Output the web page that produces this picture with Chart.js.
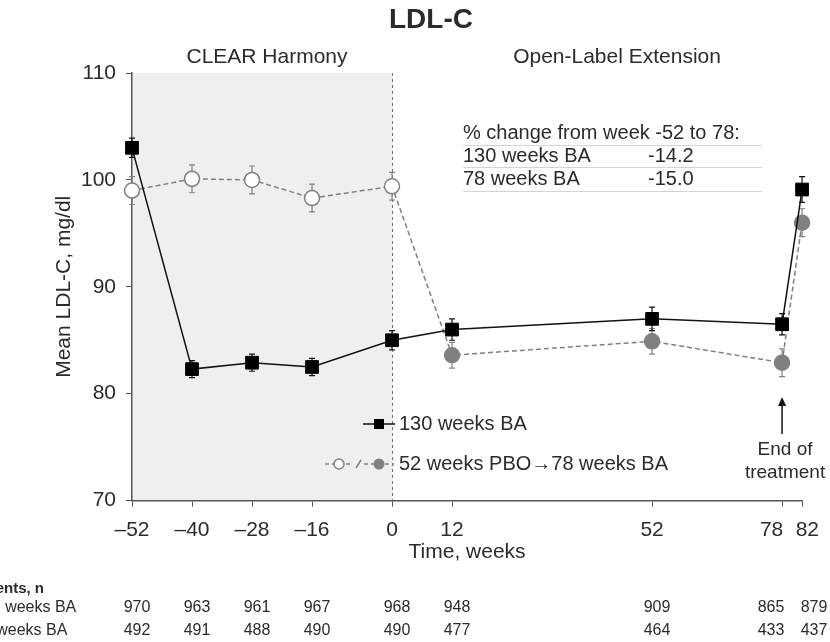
<!DOCTYPE html>
<html>
<head>
<meta charset="utf-8">
<script src="https://cdn.jsdelivr.net/npm/chart.js@4"></script>
<style>
  html, body { margin: 0; padding: 0; background: #fff; }
</style>
</head>
<body>
<canvas id="chart" width="830" height="642"></canvas>
<script>
const weeks = [-52, -40, -28, -16, 0, 12, 52, 78, 82];
const xTicks = [-52, -40, -28, -16, 0, 12, 52, 78, 82];
const ba130 = [103.0, 82.3, 82.9, 82.5, 85.0, 86.0, 87.0, 86.5, 99.1];
const ba130Err = [0.9, 0.8, 0.8, 0.8, 0.9, 1.0, 1.1, 1.0, 1.2];
const pbo = [99.0, 100.1, 100.0, 98.3, 99.4, 83.6, 84.9, 82.9, 96.0];
const pboErr = [1.3, 1.3, 1.3, 1.3, 1.3, 1.2, 1.2, 1.3, 1.3];
const nBa130 = [970, 963, 961, 967, 968, 948, 909, 865, 879];
const nBa78 = [492, 491, 488, 490, 490, 477, 464, 433, 437];
const changeRows = ['130 weeks BA', '78 weeks BA'];
const changeVals = ['-14.2', '-15.0'];

const FONT = "'Liberation Sans', Arial, sans-serif";
const TXT = '#2b2b2b';
const GREY = '#808080';

Chart.defaults.font.family = FONT;
Chart.defaults.color = TXT;

function put(ctx, s, x, y, size, align, bold) {
    ctx.font = (bold ? 'bold ' : '') + size + 'px ' + FONT;
    ctx.textAlign = align || 'left';
    ctx.textBaseline = 'middle';
    ctx.fillStyle = TXT;
    ctx.fillText(s, x, y);
}

function errBars(ctx, xs, ys, vals, errs, color) {
    ctx.strokeStyle = color;
    ctx.lineWidth = 1.2;
    ctx.setLineDash([]);
    weeks.forEach((w, i) => {
        const px = xs.getPixelForValue(w);
        const lo = ys.getPixelForValue(vals[i] - errs[i]);
        const hi = ys.getPixelForValue(vals[i] + errs[i]);
        ctx.beginPath();
        ctx.moveTo(px, lo); ctx.lineTo(px, hi);
        ctx.moveTo(px - 3, lo); ctx.lineTo(px + 3, lo);
        ctx.moveTo(px - 3, hi); ctx.lineTo(px + 3, hi);
        ctx.stroke();
    });
}

const extras = {
    id: 'extras',
    beforeDraw(chart) {
        const {ctx, chartArea: a, scales: {x}} = chart;
        ctx.save();
        ctx.fillStyle = '#efefef';
        const x0 = x.getPixelForValue(-52), x1 = x.getPixelForValue(0);
        ctx.fillRect(x0, a.top, x1 - x0, a.bottom - a.top);
        ctx.restore();
    },
    beforeDatasetsDraw(chart) {
        const {ctx, chartArea: a, scales: {x, y}} = chart;
        ctx.save();
        // start of open-label extension
        const x1 = Math.round(x.getPixelForValue(0)) + 0.5;
        ctx.strokeStyle = '#6f6f6f';
        ctx.lineWidth = 1;
        ctx.setLineDash([3, 3]);
        ctx.beginPath();
        ctx.moveTo(x1, a.top); ctx.lineTo(x1, a.bottom);
        ctx.stroke();
        errBars(ctx, x, y, pbo, pboErr, GREY);
        errBars(ctx, x, y, ba130, ba130Err, '#111');
        ctx.restore();
    },
    afterDraw(chart) {
        const {ctx, scales: {x}} = chart;
        ctx.save();

        put(ctx, 'LDL-C', 431, 20, 28, 'center', true);
        put(ctx, 'CLEAR Harmony', x.getPixelForValue(-25), 57, 21, 'center');
        put(ctx, 'Open-Label Extension', x.getPixelForValue(45), 57, 21, 'center');

        // % change box
        put(ctx, '% change from week -52 to 78:', 463, 133, 20);
        changeRows.forEach((r, i) => {
            put(ctx, r, 463, 156 + i * 23, 20);
            put(ctx, changeVals[i], 648, 156 + i * 23, 20);
        });
        ctx.strokeStyle = '#d4d4d4';
        ctx.lineWidth = 1;
        [145.5, 167.5, 191.5].forEach(ly => {
            ctx.beginPath(); ctx.moveTo(463, ly); ctx.lineTo(762, ly); ctx.stroke();
        });

        // legend
        ctx.strokeStyle = '#111';
        ctx.lineWidth = 1.5;
        ctx.beginPath(); ctx.moveTo(363, 424); ctx.lineTo(395, 424); ctx.stroke();
        ctx.fillStyle = '#000';
        ctx.fillRect(374, 419, 10, 10);
        put(ctx, '130 weeks BA', 399, 424, 20);

        ctx.strokeStyle = GREY;
        ctx.setLineDash([4, 3]);
        ctx.beginPath();
        ctx.moveTo(325, 464); ctx.lineTo(353, 464);
        ctx.moveTo(364, 464); ctx.lineTo(394, 464);
        ctx.stroke();
        ctx.setLineDash([]);
        ctx.beginPath(); ctx.moveTo(356, 468); ctx.lineTo(361, 460); ctx.stroke();
        ctx.fillStyle = '#fff';
        ctx.beginPath(); ctx.arc(339, 464, 5, 0, Math.PI * 2); ctx.fill(); ctx.stroke();
        ctx.fillStyle = GREY;
        ctx.beginPath(); ctx.arc(379, 464, 5.5, 0, Math.PI * 2); ctx.fill();
        put(ctx, '52 weeks PBO\u219278 weeks BA', 399, 464, 20);

        // end of treatment
        const xe = x.getPixelForValue(78);
        ctx.strokeStyle = '#111';
        ctx.fillStyle = '#111';
        ctx.lineWidth = 1.5;
        ctx.beginPath(); ctx.moveTo(xe, 434); ctx.lineTo(xe, 404); ctx.stroke();
        ctx.beginPath(); ctx.moveTo(xe - 4, 406); ctx.lineTo(xe + 4, 406); ctx.lineTo(xe, 397); ctx.closePath(); ctx.fill();
        put(ctx, 'End of', xe + 3, 450, 19, 'center');
        put(ctx, 'treatment', xe + 3, 473, 19, 'center');

        // patients at risk
        put(ctx, 'Patients, n', 44, 589, 15, 'right', true);
        put(ctx, '130 weeks BA', -26, 608, 16);
        put(ctx, '78 weeks BA', -26, 631, 16);
        const shift = {78: -11, 82: 12};
        weeks.forEach((w, i) => {
            const px = x.getPixelForValue(w) + (shift[w] !== undefined ? shift[w] : 5);
            put(ctx, String(nBa130[i]), px, 608, 16, 'center');
            put(ctx, String(nBa78[i]), px, 631, 16, 'center');
        });
        ctx.restore();
    }
};

const chart = new Chart(document.getElementById('chart'), {
    type: 'line',
    data: {
        datasets: [{
            label: '130 weeks BA',
            data: weeks.map((w, i) => ({x: w, y: ba130[i]})),
            borderColor: '#111',
            borderWidth: 1.5,
            pointStyle: 'rect',
            pointRadius: 9,
            pointBackgroundColor: '#000',
            pointBorderColor: '#000',
            pointBorderWidth: 1,
            clip: false
        }, {
            label: '52 weeks PBO\u219278 weeks BA',
            data: weeks.map((w, i) => ({x: w, y: pbo[i]})),
            borderColor: GREY,
            borderWidth: 1.5,
            borderDash: [5, 3],
            pointStyle: 'circle',
            pointRadius: 7.5,
            pointBackgroundColor: weeks.map(w => w <= 0 ? '#fff' : GREY),
            pointBorderColor: GREY,
            pointBorderWidth: 1.5,
            clip: false
        }]
    },
    options: {
        responsive: false,
        animation: false,
        layout: {padding: {top: 73, right: 27, bottom: 77, left: 0}},
        plugins: {
            legend: {display: false},
            tooltip: {enabled: false}
        },
        scales: {
            x: {
                type: 'linear',
                min: -52,
                max: 82,
                afterBuildTicks: s => { s.ticks = xTicks.map(v => ({value: v})); },
                grid: {drawOnChartArea: false, tickLength: 6, color: '#555'},
                border: {color: '#555', width: 1.5},
                ticks: {
                    autoSkip: false,
                    maxRotation: 0,
                    padding: 11,
                    font: {size: 21},
                    callback: v => v === 78 ? '78\u2003' : v === 82 ? '\u200282' : (v < 0 ? '\u2013' + Math.abs(v) : String(v))
                },
                title: {display: true, text: 'Time, weeks', font: {size: 21}, padding: {top: -14, bottom: 0}}
            },
            y: {
                min: 70,
                max: 110,
                afterFit: s => { s.width = 132; },
                grid: {drawOnChartArea: false, tickLength: 6, color: '#555'},
                border: {color: '#555', width: 1.5},
                ticks: {stepSize: 10, padding: 10, font: {size: 21}},
                title: {display: true, text: 'Mean LDL-C, mg/dl', font: {size: 21}, padding: {top: 52, bottom: 0}}
            }
        }
    },
    plugins: [extras]
});
</script>
</body>
</html>
